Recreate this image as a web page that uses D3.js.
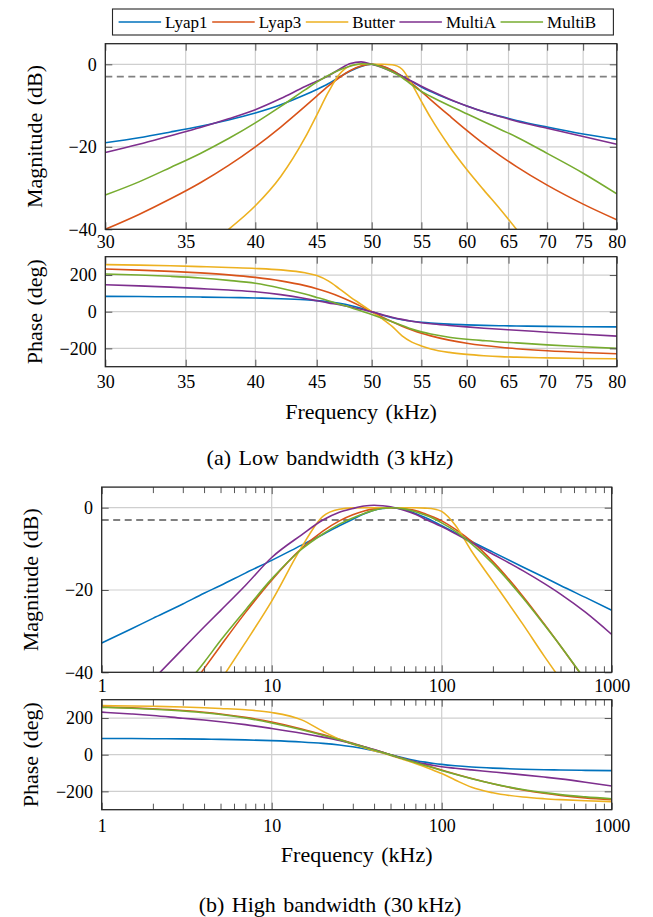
<!DOCTYPE html>
<html>
<head>
<meta charset="utf-8">
<script src="https://cdn.jsdelivr.net/npm/d3@7"></script>
<style>
  body { margin: 0; background: #fff; }
</style>
</head>
<body>
<svg id="chart" width="653" height="917"></svg>
<script>
// series names and colours (legend order)
const seriesNames = ["Lyap1", "Lyap3", "Butter", "MultiA", "MultiB"];
const seriesColors = ["#0072bd", "#d95319", "#edb120", "#7e2f8e", "#77ac30"];

// (a) low bandwidth, frequency in kHz
const freqLow = [30, 32, 34, 36, 38, 40, 42, 44, 45, 46, 47, 48, 49, 50, 51, 52, 53, 54, 55, 56, 58, 60, 62, 64, 66, 70, 75, 80];
// magnitude (dB), one row per series
const magLow = [
  [-19.0, -17.8, -16.4, -15.0, -13.5, -11.8, -9.8, -7.4, -6.1, -4.7, -3.1, -1.6, -0.5, 0.0, -0.5, -1.5, -2.9, -4.2, -5.5, -6.6, -8.5, -10.1, -11.5, -12.6, -13.6, -15.2, -16.9, -18.2],
  [-40.0, -36.4, -32.6, -28.7, -24.5, -20.0, -15.2, -10.2, -7.7, -5.3, -3.2, -1.5, -0.4, 0.0, -0.4, -1.4, -2.9, -4.6, -6.6, -8.6, -12.4, -16.0, -19.3, -22.2, -24.8, -29.3, -33.9, -37.7],
  [null, null, null, null, -40.0, -34.3, -27.2, -17.8, -12.3, -6.8, -2.4, -0.4, 0.0, 0.0, 0.0, -0.1, -1.2, -4.8, -9.0, -13.0, -19.8, -25.5, -30.5, -35.2, -40.0, null, null, null],
  [-21.4, -19.4, -17.3, -15.3, -13.2, -11.0, -8.3, -5.4, -4.1, -2.8, -1.2, 0.2, 0.6, 0.0, -0.8, -1.8, -2.9, -4.1, -5.3, -6.4, -8.4, -10.1, -11.5, -12.7, -13.8, -15.5, -17.5, -19.4],
  [-31.7, -28.5, -25.0, -21.6, -18.0, -14.2, -10.2, -6.2, -4.3, -2.7, -1.4, -0.4, 0.15, 0.0, -0.7, -1.8, -3.2, -5.0, -6.6, -7.8, -10.0, -12.0, -13.9, -15.8, -17.6, -21.6, -26.4, -31.4]
];
// phase (deg)
const phaseLow = [
  [83.6, 82.6, 81.3, 79.8, 77.8, 75.0, 71.0, 64.8, 60.3, 54.2, 45.8, 34.1, 18.5, 0.0, -18.2, -33.1, -44.1, -52.0, -57.8, -62.1, -68.0, -71.8, -74.5, -76.4, -77.9, -80.0, -81.8, -83.0],
  [232.6, 227.0, 220.2, 211.7, 201.0, 187.0, 168.2, 142.2, 125.5, 105.9, 83.1, 57.3, 29.2, 0.0, -28.6, -55.2, -78.9, -99.5, -117.0, -131.8, -154.9, -171.8, -184.4, -194.1, -201.8, -213.1, -222.6, -229.2],
  [257, 254, 251, 246, 241, 236, 228, 212, 197, 168, 125, 80, 40, 0, -38, -80, -132, -166, -187, -203, -222, -233, -240, -245, -248, -252, -255, -257],
  [147, 141, 134, 126, 118, 109, 93, 72, 60, 48, 38, 26, 13, -1, -16, -30, -42, -52, -60, -66, -75, -83, -90, -96, -101, -112, -123, -133],
  [206, 200, 193, 184, 171, 155, 128, 96, 78, 60, 41, 23, 4, -15, -35, -55, -75, -95, -110, -122, -139, -150, -158, -165, -170, -181, -191, -200]
];

// (b) high bandwidth, frequency in kHz
const freqHigh = [1, 1.5, 2, 3, 4, 5, 7, 10, 15, 20, 25, 30, 35, 40, 45, 50, 60, 70, 80, 90, 100, 120, 150, 200, 300, 400, 500, 700, 1000];
const magHigh = [
  [-32.9, -29.4, -26.9, -23.4, -20.8, -18.9, -15.9, -12.8, -9.1, -6.5, -4.4, -2.8, -1.5, -0.6, -0.2, 0.0, -0.4, -1.4, -2.4, -3.4, -4.4, -6.1, -8.2, -10.8, -14.4, -16.9, -18.9, -21.8, -24.9],
  [null, null, null, -46.4, -39.1, -33.6, -25.5, -17.6, -9.9, -5.7, -3.2, -1.7, -0.8, -0.3, -0.1, 0.0, -0.2, -0.7, -1.5, -2.3, -3.2, -5.2, -8.2, -13.1, -21.5, -28.2, -33.6, -42.0, null],
  [null, null, null, null, null, -42.0, -32.8, -22.7, -9.6, -2.1, -0.4, -0.05, 0.0, 0.0, 0.0, 0.0, 0.0, 0.0, -0.1, -0.3, -0.9, -4.2, -10.6, -17.9, -28.3, -36.0, -41.7, null, null],
  [null, null, -41.8, -34.3, -29.0, -25.0, -18.9, -12.1, -6.6, -3.0, -1.1, -0.2, 0.4, 0.6, 0.45, 0.2, -0.6, -1.6, -2.8, -3.7, -4.6, -6.3, -8.5, -11.3, -15.3, -18.4, -21.0, -25.4, -30.8],
  [null, null, null, -44.0, -37.6, -32.3, -24.9, -17.3, -10.1, -6.4, -4.0, -2.5, -1.4, -0.6, -0.15, 0.0, -0.3, -1.0, -1.8, -2.7, -3.7, -5.7, -8.8, -13.6, -21.9, -28.4, -33.6, -41.9, null]
];
const phaseHigh = [
  [88.7, 88.1, 87.4, 86.1, 84.8, 83.5, 80.8, 76.7, 69.5, 61.7, 53.0, 43.3, 32.8, 21.7, 10.6, 0.0, -17.9, -31.2, -40.7, -47.7, -53.0, -60.3, -67.0, -73.2, -79.0, -81.8, -83.5, -85.4, -86.8],
  [260.2, 255.4, 250.5, 240.9, 231.4, 222.0, 203.8, 178.1, 140.6, 109.4, 83.5, 61.7, 43.2, 27.0, 12.7, 0.0, -22.1, -40.7, -56.8, -71.0, -83.5, -104.8, -129.6, -158.6, -192.1, -210.5, -222.0, -235.4, -245.7],
  [268, 266, 264, 260, 256, 252, 245, 230, 190, 128, 84, 57, 38, 22, 9, -4, -27, -48, -67, -86, -103, -138, -178, -208, -231, -240, -245, -251, -256],
  [232, 222, 214, 199, 189, 180, 164, 143, 117, 96, 78, 60, 43, 28, 13, -1, -22, -38, -50, -59, -66, -74, -83, -94, -110, -122, -132, -150, -171],
  [258, 253, 248, 238, 229, 219, 200, 173, 136, 106, 81, 60, 42, 26, 12, -1, -24, -43, -59, -73, -86, -107, -131, -158, -190, -207, -218, -230, -240]
];

// tick values
const ticksLow = [30, 35, 40, 45, 50, 55, 60, 65, 70, 75, 80];
const ticksHigh = [1, 10, 100, 1000];
const minorHigh = [2, 3, 4, 5, 6, 7, 8, 9, 20, 30, 40, 50, 60, 70, 80, 90, 200, 300, 400, 500, 600, 700, 800, 900];
const magTicks = [-40, -20, 0];
const phaseTicks = [-200, 0, 200];
const cutoffDb = -3;

const serif = '"Liberation Serif", Tinos, "Times New Roman", serif';
const svg = d3.select("#chart").style("font-family", serif);
const fmtX = d3.format("d");

// panel layout
const panels = [
  { freq: freqLow, vals: magLow, xDomain: [30, 80], yDomain: [-40, 5], left: 105.3, right: 616.8, top: 43.7, bottom: 229.3,
    xTicks: ticksLow, minor: [], yTicks: magTicks, dashed: true, title: "Magnitude (dB)", titleX: 35, xPad: 5.8 },
  { freq: freqLow, vals: phaseLow, xDomain: [30, 80], yDomain: [-300, 300], left: 105.3, right: 616.8, top: 256.7, bottom: 366.7,
    xTicks: ticksLow, minor: [], yTicks: phaseTicks, dashed: false, title: "Phase (deg)", titleX: 35, xPad: 8.6 },
  { freq: freqHigh, vals: magHigh, xDomain: [1, 1000], yDomain: [-40, 5], left: 101.7, right: 611.7, top: 487.1, bottom: 672.3,
    xTicks: ticksHigh, minor: minorHigh, yTicks: magTicks, dashed: true, title: "Magnitude (dB)", titleX: 31, xPad: 6.6 },
  { freq: freqHigh, vals: phaseHigh, xDomain: [1, 1000], yDomain: [-300, 300], left: 101.7, right: 611.7, top: 699.7, bottom: 809.7,
    xTicks: ticksHigh, minor: minorHigh, yTicks: phaseTicks, dashed: false, title: "Phase (deg)", titleX: 31, xPad: 9.2 }
];

function styleAxis(ax) {
  ax.select(".domain").remove();
  ax.selectAll(".tick line").attr("stroke", "#555").attr("stroke-width", 1);
  ax.attr("font-family", null).attr("font-size", null);
  ax.selectAll(".tick text")
    .style("font-family", serif)
    .style("font-size", "18px")
    .attr("fill", "#000");
}

panels.forEach((p, i) => {
  const x = d3.scaleLog().domain(p.xDomain).range([p.left, p.right]);
  const y = d3.scaleLinear().domain(p.yDomain).range([p.bottom, p.top]);
  const g = svg.append("g");

  g.append("clipPath").attr("id", "clip" + i)
    .append("rect")
    .attr("x", p.left).attr("y", p.top)
    .attr("width", p.right - p.left).attr("height", p.bottom - p.top);

  // major grid
  g.append("g").selectAll("line")
    .data(p.xTicks.filter(t => t > p.xDomain[0] && t < p.xDomain[1]))
    .join("line")
    .attr("x1", d => x(d)).attr("x2", d => x(d))
    .attr("y1", p.top).attr("y2", p.bottom)
    .attr("stroke", "#cfcfcf").attr("stroke-width", 1.2);
  g.append("g").selectAll("line")
    .data(p.yTicks.filter(t => t > p.yDomain[0] && t < p.yDomain[1]))
    .join("line")
    .attr("x1", p.left).attr("x2", p.right)
    .attr("y1", d => y(d)).attr("y2", d => y(d))
    .attr("stroke", "#cfcfcf").attr("stroke-width", 1.2);

  // -3 dB reference
  if (p.dashed) {
    g.append("line")
      .attr("x1", p.left).attr("x2", p.right)
      .attr("y1", y(cutoffDb)).attr("y2", y(cutoffDb))
      .attr("stroke", "#808080").attr("stroke-width", 1.8)
      .attr("stroke-dasharray", "7,4.5");
  }

  // curves
  const line = d3.line()
    .defined(d => d[1] != null)
    .x(d => x(d[0]))
    .y(d => y(d[1]))
    .curve(d3.curveMonotoneX);
  g.append("g").attr("clip-path", "url(#clip" + i + ")")
    .selectAll("path")
    .data(p.vals)
    .join("path")
    .attr("d", vals => line(p.freq.map((f, k) => [f, vals[k]])))
    .attr("fill", "none")
    .attr("stroke", (d, k) => seriesColors[k])
    .attr("stroke-width", 1.6)
    .attr("stroke-linejoin", "round");

  // ticks inside the box
  const bottom = g.append("g").attr("transform", `translate(0,${p.bottom})`)
    .call(d3.axisBottom(x).tickValues(p.xTicks).tickFormat(fmtX).tickSize(-7).tickPadding(p.xPad));
  styleAxis(bottom);
  const top = g.append("g").attr("transform", `translate(0,${p.top})`)
    .call(d3.axisTop(x).tickValues(p.xTicks).tickFormat("").tickSize(-7));
  styleAxis(top);
  if (p.minor.length) {
    [[d3.axisBottom, p.bottom], [d3.axisTop, p.top]].forEach(([axisFn, yy]) => {
      const m = g.append("g").attr("transform", `translate(0,${yy})`)
        .call(axisFn(x).tickValues(p.minor).tickFormat("").tickSize(-6));
      styleAxis(m);
    });
  }
  const left = g.append("g").attr("transform", `translate(${p.left},0)`)
    .call(d3.axisLeft(y).tickValues(p.yTicks).tickSize(-7).tickPadding(8.6));
  styleAxis(left);
  const right = g.append("g").attr("transform", `translate(${p.right},0)`)
    .call(d3.axisRight(y).tickValues(p.yTicks).tickFormat("").tickSize(-7));
  styleAxis(right);

  // frame
  g.append("rect")
    .attr("x", p.left).attr("y", p.top)
    .attr("width", p.right - p.left).attr("height", p.bottom - p.top)
    .attr("fill", "none").attr("stroke", "#262626").attr("stroke-width", 1.3);

  // y-axis title
  g.append("text")
    .attr("transform", `translate(${p.titleX},${(p.top + p.bottom) / 2}) rotate(-90)`)
    .attr("text-anchor", "middle")
    .attr("dy", "0.3em")
    .style("font-family", serif)
    .style("font-size", "22px")
    .style("word-spacing", "2px")
    .text(p.title);
});

// x titles and captions
const xTitles = [
  { x: (105.3 + 616.8) / 2, y: 418.5, text: "Frequency (kHz)", size: 22 },
  { x: (101.7 + 611.7) / 2, y: 861.5, text: "Frequency (kHz)", size: 22 },
  { x: 330, y: 464.5, text: "(a) Low bandwidth (3\u2009kHz)", size: 22 },
  { x: 330, y: 911.5, text: "(b) High bandwidth (30\u2009kHz)", size: 22 }
];
svg.append("g").selectAll("text")
  .data(xTitles)
  .join("text")
  .attr("x", d => d.x).attr("y", d => d.y)
  .attr("text-anchor", "middle")
  .style("font-family", serif)
  .style("font-size", d => d.size + "px")
  .style("word-spacing", "2px")
  .text(d => d.text);

// legend
const legend = svg.append("g");
legend.append("rect")
  .attr("x", 112.5).attr("y", 9)
  .attr("width", 613.4 - 112.5).attr("height", 26)
  .attr("fill", "#fff").attr("stroke", "#262626").attr("stroke-width", 1.1);
let lx = 118.6;
seriesNames.forEach((name, k) => {
  legend.append("line")
    .attr("x1", lx).attr("x2", lx + 42.5)
    .attr("y1", 22).attr("y2", 22)
    .attr("stroke", seriesColors[k]).attr("stroke-width", 1.6);
  const t = legend.append("text")
    .attr("x", lx + 46.5).attr("y", 27.5)
    .style("font-family", serif)
    .style("font-size", "17px")
    .text(name);
  lx += 46.5 + t.node().getComputedTextLength() + 4.6;
});
</script>
</body>
</html>
